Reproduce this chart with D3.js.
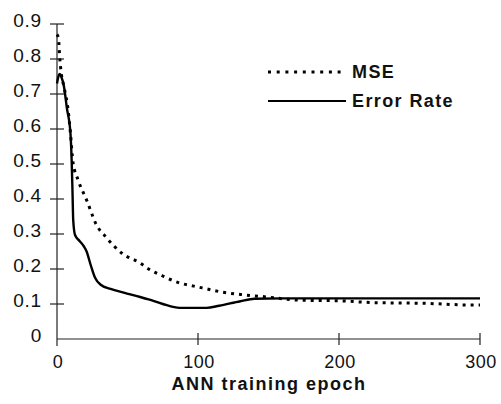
<!DOCTYPE html>
<html><head><meta charset="utf-8">
<script src="https://cdn.jsdelivr.net/npm/d3@7"></script>
<style>
body{margin:0;background:#fff;}
svg{display:block;font-family:"Liberation Sans",Arial,sans-serif;}
</style></head>
<body><svg id="c" width="501" height="404"></svg>
<script>
const xTicks = [0, 100, 200, 300];
const yTicks = [0, 0.1, 0.2, 0.3, 0.4, 0.5, 0.6, 0.7, 0.8, 0.9];
const seriesNames = ["MSE", "Error Rate"];
const mseEpoch = [0,1,2,3,5,8,9.5,11.3,15,21,28,35,46,59,65,75,87,97,103,117,133,149,172,201,224,260,295,300];
const mseValue = [0.87,0.86,0.8,0.76,0.72,0.65,0.59,0.506,0.454,0.397,0.326,0.29,0.245,0.217,0.2,0.18,0.16,0.151,0.146,0.134,0.126,0.12,0.111,0.109,0.104,0.102,0.097,0.097];
const errEpoch = [0,1,2,3,5,7,9.5,10.4,11,11.5,12.8,16,19,21,24,27,31,38,48,59,65,75,87,106,115,130,140,160,200,250,300];
const errValue = [0.73,0.75,0.757,0.75,0.72,0.66,0.59,0.51,0.42,0.34,0.297,0.28,0.265,0.25,0.21,0.175,0.155,0.143,0.132,0.12,0.113,0.1,0.089,0.089,0.095,0.108,0.115,0.116,0.116,0.116,0.116];

const svg = d3.select("#c");
const x = d3.scaleLinear().domain([0,300]).range([57,480]);
const y = d3.scaleLinear().domain([0,0.9]).range([339,24]);

// axes lines
svg.append("line").attr("x1",x(0)).attr("x2",x(300)).attr("y1",y(0)).attr("y2",y(0)).attr("stroke","#222").attr("stroke-width",1.2);
svg.append("line").attr("x1",x(0)).attr("x2",x(0)).attr("y1",y(0.9)).attr("y2",y(0)+7).attr("stroke","#222").attr("stroke-width",1.2);
// y ticks
svg.selectAll(".yt").data(yTicks.filter(d=>d>0)).enter().append("line")
  .attr("x1",x(0)-7).attr("x2",x(0)+7).attr("y1",d=>y(d)).attr("y2",d=>y(d)).attr("stroke","#222").attr("stroke-width",1.2);
svg.selectAll(".ytl").data(yTicks).enter().append("text")
  .attr("x",42).attr("y",d=>y(d)+3).attr("text-anchor","end").attr("font-size",19).attr("letter-spacing",0.8).attr("fill","#111")
  .text(d=>d===0?"0":d3.format(".1f")(d));
// x ticks
svg.selectAll(".xt").data(xTicks.filter(d=>d>0)).enter().append("line")
  .attr("x1",d=>x(d)).attr("x2",d=>x(d)).attr("y1",y(0)-6).attr("y2",y(0)+6).attr("stroke","#222").attr("stroke-width",1.2);
svg.selectAll(".xtl").data(xTicks).enter().append("text")
  .attr("x",d=>x(d)+1).attr("y",368).attr("text-anchor","middle").attr("font-size",18).attr("letter-spacing",0.5).attr("fill","#111")
  .text(d=>d);
svg.append("text").attr("x",269).attr("y",390).attr("text-anchor","middle").attr("font-size",18)
  .attr("font-weight","bold").attr("letter-spacing",1.5).attr("fill","#111").text("ANN training epoch");

const line = d3.line().x(d=>x(d[0])).y(d=>y(d[1])).curve(d3.curveMonotoneX);
const mse = mseEpoch.map((e,i)=>[e,mseValue[i]]);
const err = errEpoch.map((e,i)=>[e,errValue[i]]);
svg.append("path").attr("d",line(err)).attr("fill","none").attr("stroke","#000").attr("stroke-width",2.4);
svg.append("path").attr("d",line(mse)).attr("fill","none").attr("stroke","#000").attr("stroke-width",3)
  .attr("stroke-dasharray","3,5");

// legend
const leg = [{name:seriesNames[0], dash:"3,5.7", w:3, y:72},{name:seriesNames[1], dash:null, w:2.2, y:101}];
leg.forEach(l=>{
  const ln = svg.append("line").attr("x1",268).attr("x2",346).attr("y1",l.y).attr("y2",l.y)
    .attr("stroke","#000").attr("stroke-width",l.w);
  if(l.dash) ln.attr("stroke-dasharray",l.dash);
  svg.append("text").attr("x",352).attr("y",l.y+6).attr("font-size",18).attr("font-weight","bold")
    .attr("letter-spacing",1.4).attr("fill","#111").text(l.name);
});
</script></body></html>
